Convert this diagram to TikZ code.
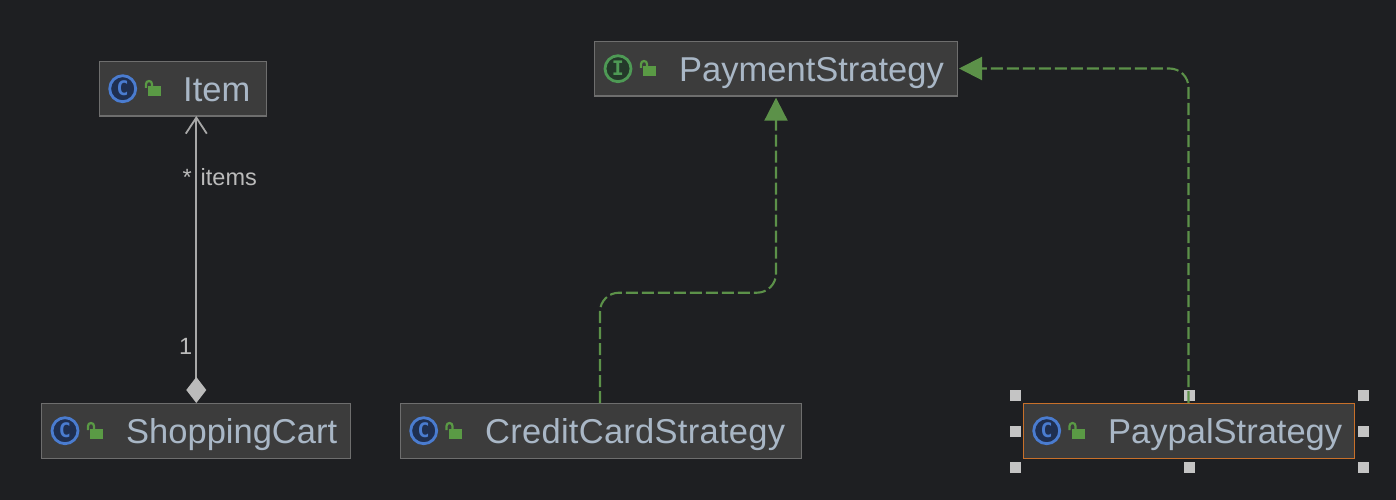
\documentclass[tikz,border=0pt]{standalone}
\usepackage{fontspec}
\setmainfont{Liberation Sans}
\newfontfamily\labelfont{Liberation Sans}
\newfontfamily\iconfont{DejaVu Sans Mono}
\usetikzlibrary{arrows.meta}
\definecolor{bgc}{HTML}{1E1F22}
\definecolor{boxfill}{HTML}{3C3C3C}
\definecolor{boxline}{HTML}{6E6E6E}
\definecolor{titlec}{HTML}{A9B7C6}
\definecolor{labc}{HTML}{BBBBBB}
\definecolor{linec}{HTML}{A8A8A8}
\definecolor{greenc}{HTML}{5C9149}
\definecolor{lockc}{HTML}{5A9A45}
\definecolor{classc}{HTML}{4A7CD0}
\definecolor{classf}{HTML}{1F2F50}
\definecolor{intc}{HTML}{4E9A55}
\definecolor{intf}{HTML}{24392A}
\definecolor{selc}{HTML}{C8702A}
\definecolor{handlec}{HTML}{C4C4C4}
\tikzset{
  x=1pt,y=-1pt,
  classbox/.style={draw=boxline,fill=boxfill,line width=1.3pt,minimum height=54.5pt,inner sep=0pt,anchor=north west},
  titletext/.style={text=titlec,anchor=base west,inner sep=0pt,font=\fontsize{34.5}{38}\selectfont},
  iconbase/.style={circle,line width=2.8pt,minimum size=26pt,inner sep=0pt,font=\iconfont\bfseries\fontsize{20}{21}\selectfont},
  classicon/.style={iconbase,draw=classc,fill=classf,text=classc},
  inticon/.style={iconbase,draw=intc,fill=intf,text=intc},
  handle/.style={fill=handlec,draw=none,minimum size=10.5pt,inner sep=0pt,outer sep=0pt},
  labeltext/.style={text=labc,inner sep=0pt,font=\labelfont\fontsize{23.5}{26}\selectfont},
  realise/.style={draw=greenc,line width=2.1pt,dash pattern=on 12pt off 4pt,rounded corners=19pt,
    -{Triangle[length=23pt,width=23pt,fill=greenc]}},
  lockpic/.pic={
    \fill[lockc] (3,-1.5) rectangle (16,8.5);
    \draw[lockc,line width=2.2pt] (1,0) -- (1,-4) arc[start angle=180,end angle=0,x radius=3,y radius=-3] -- (7,-1);
  }
}
\begin{document}
\begin{tikzpicture}
\fill[bgc] (0,0) rectangle (1396,500);
\useasboundingbox (0,0) rectangle (1396,500);

% selection handles (under the connector)
\foreach \n/\hx/\hy in {h1/1015.7/395.7,h2/1189.7/395.7,h3/1363.7/395.7,h4/1015.7/431.7,h5/1363.7/431.7,h6/1015.7/467.7,h7/1189.7/467.7,h8/1363.7/467.7}
  \node[handle] (\n) at (\hx,\hy) {};

% class boxes
\node[classbox,minimum width=167pt] (item) at (99,61) {};
\node[classbox,minimum width=309pt] (cart) at (41,403) {};
\node[classbox,minimum width=401pt] (credit) at (400,403) {};
\node[classbox,minimum width=363pt] (strategy) at (594,41) {};
\node[classbox,minimum width=331pt,draw=selc] (paypal) at (1023,403) {};

% icons
\node[classicon] (itemicon) at (122.7,88.7) {C};
\node[classicon] (carticon) at (65,430.7) {C};
\node[classicon] (crediticon) at (423.7,430.7) {C};
\node[inticon] (strategyicon) at (618,68.7) {I};
\node[classicon] (paypalicon) at (1046.7,430.7) {C};

% locks
\pic at (145,88) {lockpic};
\pic at (87,430) {lockpic};
\pic at (445.5,430) {lockpic};
\pic at (640,68) {lockpic};
\pic at (1068.5,430) {lockpic};

% titles
\node[titletext] (itemt) at (183,101.7) {Item};
\node[titletext] (cartt) at (126,443.7) {ShoppingCart};
\node[titletext] (creditt) at (485,443.7) {\addfontfeature{LetterSpace=0.8}CreditCardStrategy};
\node[titletext] (strategyt) at (679,81.7) {PaymentStrategy};
\node[titletext] (paypalt) at (1108,443.7) {PaypalStrategy};

% composition
\coordinate (cartport) at (196.3,403);
\coordinate (itemport) at (196.3,116);
\draw[linec,line width=2.2pt,
  {Diamond[length=26pt,width=20pt,fill=labc,color=labc]}-{Straight Barb[length=16pt,width=21pt,color=linec,line width=1.8pt]}]
  (cartport) -- (itemport);
\node[labeltext,anchor=base west] (star) at (182.5,185) {*};
\node[labeltext,anchor=base west] (items) at (200.5,185.5) {items};
\node[labeltext,anchor=base west] (one) at (179,354) {1};

% realisations
\coordinate (creditport) at (600,403);
\coordinate (creditbend) at (600,292.7);
\coordinate (strategyin) at (776,97.7);
\coordinate (paypalport) at (1188.5,403);
\draw[realise] (creditport) -- (creditbend) -| (strategyin);
\draw[realise] (paypalport) |- (959,68.5) coordinate (strategyeast);
\end{tikzpicture}
\end{document}
